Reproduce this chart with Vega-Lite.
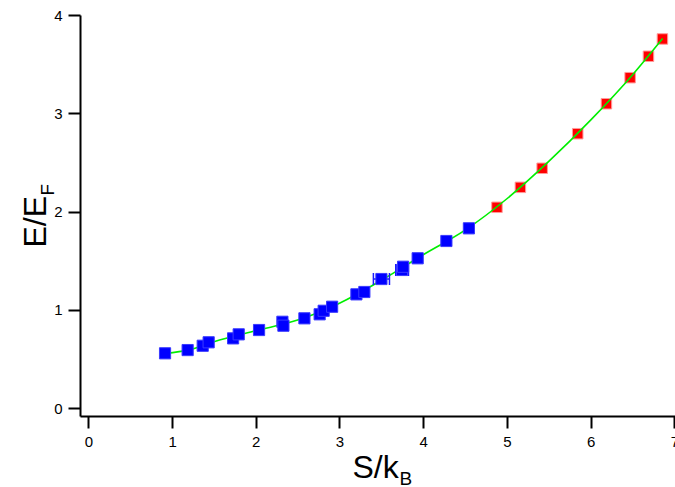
{
  "$schema": "https://vega.github.io/schema/vega-lite/v6.json",
  "width": 596,
  "height": 401,
  "autosize": "none",
  "padding": {"left": 80, "top": 15, "right": 0, "bottom": 71},
  "config": {"view": {"stroke": null}, "font": "Liberation Sans"},
  "datasets": {
    "blue": [
      {"s": 0.916, "e": 0.557}, {"s": 1.186, "e": 0.590}, {"s": 1.366, "e": 0.634},
      {"s": 1.437, "e": 0.669}, {"s": 1.729, "e": 0.709}, {"s": 1.796, "e": 0.750},
      {"s": 2.039, "e": 0.794}, {"s": 2.318, "e": 0.878}, {"s": 2.330, "e": 0.838},
      {"s": 2.581, "e": 0.913}, {"s": 2.763, "e": 0.954}, {"s": 2.811, "e": 0.990},
      {"s": 2.912, "e": 1.031}, {"s": 3.202, "e": 1.157}, {"s": 3.297, "e": 1.181},
      {"s": 3.501, "e": 1.313}, {"s": 3.748, "e": 1.405}, {"s": 3.760, "e": 1.438},
      {"s": 3.934, "e": 1.524}, {"s": 4.277, "e": 1.700}, {"s": 4.546, "e": 1.829}
    ],
    "red": [
      {"s": 4.881, "e": 2.043}, {"s": 5.161, "e": 2.246}, {"s": 5.421, "e": 2.440},
      {"s": 5.846, "e": 2.792}, {"s": 6.189, "e": 3.097}, {"s": 6.472, "e": 3.362},
      {"s": 6.691, "e": 3.580}, {"s": 6.858, "e": 3.756}
    ],
    "err": [
      {"e": 1.313, "lo": 3.405, "hi": 3.597},
      {"e": 1.405, "lo": 3.672, "hi": 3.824}
    ],
    "curve": [
      {"s": 0.92, "e": 0.555}, {"s": 1.2, "e": 0.592}, {"s": 1.5, "e": 0.675},
      {"s": 2.0, "e": 0.787}, {"s": 2.5, "e": 0.895}, {"s": 3.0, "e": 1.067},
      {"s": 3.5, "e": 1.30}, {"s": 4.0, "e": 1.56}, {"s": 4.5, "e": 1.81},
      {"s": 5.0, "e": 2.13}, {"s": 5.5, "e": 2.51}, {"s": 6.0, "e": 2.93},
      {"s": 6.5, "e": 3.39}, {"s": 6.86, "e": 3.76}
    ]
  },
  "resolve": {"axis": {"x": "independent", "y": "independent"}},
  "layer": [
    {
      "data": {"name": "red"},
      "mark": {"type": "square", "filled": true, "color": "#ff0000", "stroke": "#ff9a9a", "strokeWidth": 1, "size": 110, "opacity": 1},
      "encoding": {
        "x": {"field": "s", "type": "quantitative", "scale": {"domain": [-0.1, 7.02], "nice": false, "zero": false},
          "axis": {"orient": "bottom", "values": [0, 1, 2, 3, 4, 5, 6, 7], "title": "S/k", "titleFontSize": 32, "titleFontWeight": "normal",
            "titleAlign": "left", "titleBaseline": "alphabetic", "titleX": 272, "titleY": 61, "titleColor": "black",
            "labelFontSize": 15, "labelPadding": 6, "labelColor": "black", "labelFlush": false, "labelOverlap": false,
            "tickSize": 12, "tickWidth": 2, "tickColor": "black", "domainWidth": 2, "domainColor": "black", "grid": false}},
        "y": {"field": "e", "type": "quantitative", "scale": {"domain": [-0.081, 4.0], "nice": false, "zero": false},
          "axis": {"orient": "left", "values": [0, 1, 2, 3, 4], "title": "E/E", "titleFontSize": 32, "titleFontWeight": "normal",
            "titleAngle": -90, "titleAlign": "left", "titleBaseline": "alphabetic", "titleX": -35, "titleY": 232, "titleColor": "black",
            "labelFontSize": 15, "labelPadding": 6, "labelColor": "black", "labelFlush": false, "labelOverlap": false,
            "tickSize": 12, "tickWidth": 2, "tickColor": "black", "domainWidth": 2, "domainColor": "black", "grid": false}}
      }
    },
    {
      "data": {"name": "curve"},
      "mark": {"type": "line", "interpolate": "monotone", "color": "#00ee00", "strokeWidth": 1.6},
      "encoding": {
        "x": {"field": "s", "type": "quantitative", "axis": null},
        "y": {"field": "e", "type": "quantitative", "axis": null}
      }
    },
    {
      "data": {"name": "err"},
      "mark": {"type": "rule", "color": "#1a1aff", "strokeWidth": 1.5},
      "encoding": {
        "x": {"field": "lo", "type": "quantitative", "axis": null},
        "x2": {"field": "hi"},
        "y": {"field": "e", "type": "quantitative", "axis": null}
      }
    },
    {
      "data": {"name": "err"},
      "mark": {"type": "tick", "orient": "vertical", "color": "#1a1aff", "thickness": 1.5, "size": 12, "opacity": 1},
      "encoding": {
        "x": {"field": "lo", "type": "quantitative", "axis": null},
        "y": {"field": "e", "type": "quantitative", "axis": null}
      }
    },
    {
      "data": {"name": "err"},
      "mark": {"type": "tick", "orient": "vertical", "color": "#1a1aff", "thickness": 1.5, "size": 12, "opacity": 1},
      "encoding": {
        "x": {"field": "hi", "type": "quantitative", "axis": null},
        "y": {"field": "e", "type": "quantitative", "axis": null}
      }
    },
    {
      "data": {"name": "blue"},
      "mark": {"type": "square", "filled": true, "color": "#0000ff", "stroke": "#3a3aff", "strokeWidth": 1, "size": 125, "opacity": 1},
      "encoding": {
        "x": {"field": "s", "type": "quantitative",
          "axis": {"orient": "bottom", "domain": false, "ticks": false, "labels": false, "grid": false,
            "title": "B", "titleFontSize": 19, "titleFontWeight": "normal", "titleColor": "black",
            "titleAlign": "left", "titleBaseline": "alphabetic", "titleX": 319, "titleY": 68}},
        "y": {"field": "e", "type": "quantitative",
          "axis": {"orient": "left", "domain": false, "ticks": false, "labels": false, "grid": false,
            "title": "F", "titleFontSize": 19, "titleFontWeight": "normal", "titleColor": "black", "titleAngle": -90,
            "titleAlign": "left", "titleBaseline": "alphabetic", "titleX": -27, "titleY": 180}}
      }
    }
  ]
}
